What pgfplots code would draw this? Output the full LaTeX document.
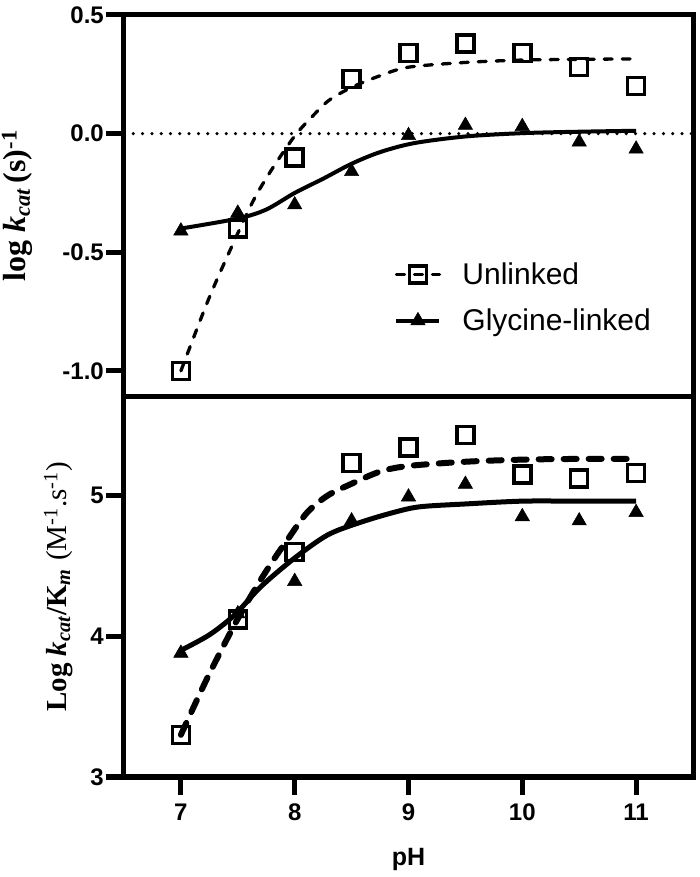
\documentclass[border=0pt]{standalone}
\usepackage{pgfplots}
\pgfplotsset{compat=1.18}
\usepackage{fontspec}
\setmainfont{Liberation Sans}
\newfontfamily\timesfont{Liberation Serif}

\pgfplotsset{
  panel/.style={
    scale only axis, width=569pt, xmin=6.5, xmax=11.5,
    axis line style={line width=5pt},
    tick align=outside, major tick length=18pt,
    tick style={line width=5pt, black},
    xtick pos=bottom, ytick pos=left,
    tick label style={font=\bfseries\fontsize{24}{24}\selectfont},
    /pgf/number format/assume math mode=true,
    yticklabel style={inner sep=2pt},
    xticklabel style={inner sep=0pt, yshift=-9pt},
  },
  unl1/.style={line width=3.3pt, line cap=round, dash pattern=on 8pt off 10pt},
  gly1/.style={line width=4pt},
  unl2/.style={line width=6pt, line cap=round, dash pattern=on 13pt off 12pt},
  gly2/.style={line width=5pt},
  sqm/.style={only marks, mark=square, mark size=8.5pt, mark options={solid, line width=3.5pt}},
  trm/.style={only marks, mark=triangle*, mark size=8.3pt, mark options={solid, line width=0.5pt}},
}

\begin{document}
\begin{tikzpicture}
\useasboundingbox (-124pt,-100pt) rectangle (576pt,777pt);

% ---------------- top panel ----------------
\begin{axis}[panel, at={(0pt,380pt)}, anchor=south west, height=382pt,
  ymin=-1.11, ymax=0.5, ytick={-1,-0.5,0,0.5}, xtick=\empty,
  yticklabel style={/pgf/number format/fixed, /pgf/number format/fixed zerofill, /pgf/number format/precision=1},
  ylabel={\timesfont\bfseries log \textit{k}\textsubscript{\textit{cat}}\,(s)\textsuperscript{-1}},
  ylabel style={at={(axis description cs:0,0.5)}, anchor=south, yshift=91pt, inner sep=0pt, font=\fontsize{32}{38}\selectfont},
  legend style={at={(0.475,0.2605)}, anchor=west, draw=none, fill=none,
    font=\fontsize{30}{36}\selectfont, row sep=23pt, inner sep=0pt,
    nodes={inner sep=0pt},
    /tikz/every odd column/.append style={column sep=21pt}},
  legend cell align=left,
  legend image code/.code={\draw[mark repeat=2,mark phase=2,#1] plot coordinates {(0pt,0pt) (21.5pt,0pt) (43pt,0pt)};},
]
\addlegendimage{unl1, mark=square, mark size=8.5pt, mark options={solid, line width=3.5pt}}
\addlegendentry{Unlinked}
\addlegendimage{gly1, mark=triangle*, mark size=8.3pt, mark options={solid, line width=0.5pt}}
\addlegendentry{Glycine-linked}

\addplot[forget plot, line width=3.5pt, line cap=round, dash pattern=on 0pt off 9.3pt] coordinates {(6.5,0) (11.5,0)};

% fitted curves
\addplot[forget plot, unl1, smooth] coordinates {
(7.0,-1.00) (7.25,-0.69) (7.5,-0.42) (7.65,-0.27) (7.8,-0.15) (8.0,-0.01) (8.15,0.07)
(8.3,0.14) (8.5,0.195) (8.75,0.244) (9.0,0.28) (9.5,0.30) (10.0,0.31) (10.5,0.313) (11.0,0.315)};
\addplot[forget plot, gly1, smooth] coordinates {
(7.0,-0.40) (7.5,-0.358) (7.75,-0.32) (8.0,-0.25) (8.25,-0.19) (8.5,-0.127) (8.75,-0.078)
(9.05,-0.04) (9.5,-0.012) (10.0,0.002) (10.5,0.008) (11.0,0.012)};

% data
\addplot[forget plot, sqm] coordinates {
(7,-1.00) (7.5,-0.40) (8,-0.10) (8.5,0.23) (9,0.34) (9.5,0.38) (10,0.34) (10.5,0.28) (11,0.20)};
\addplot[forget plot, trm] coordinates {
(7,-0.41) (7.5,-0.335) (8,-0.30) (8.5,-0.16) (9,-0.008) (9.5,0.035) (10,0.03) (10.5,-0.035) (11,-0.065)};
\end{axis}

% ---------------- bottom panel ----------------
\begin{axis}[panel, at={(0pt,0pt)}, anchor=south west, height=380pt,
  ymin=3, ymax=5.7, ytick={3,4,5}, xtick={7,8,9,10,11},
  xlabel={pH},
  xlabel style={at={(axis description cs:0.5,0)}, anchor=north, yshift=-71pt, inner sep=0pt, font=\bfseries\fontsize{25}{30}\selectfont},
  ylabel={{\timesfont\bfseries Log \textit{k}\textsubscript{\textit{cat}}/K\textsubscript{\textit{m}}} {\timesfont(M\textsuperscript{-1}.s\textsuperscript{-1})}},
  ylabel style={at={(axis description cs:0,0.5)}, anchor=south, yshift=51pt, inner sep=0pt, font=\fontsize{29}{34}\selectfont},
]
\addplot[unl2, smooth] coordinates {
(7.0,3.30) (7.23,3.70) (7.47,4.08) (7.67,4.36) (7.82,4.55) (7.94,4.69) (8.11,4.88) (8.29,5.00)
(8.49,5.08) (8.75,5.17) (9.0,5.21) (9.5,5.24) (10.0,5.255) (10.5,5.26) (11.0,5.26)};
\addplot[gly2, smooth] coordinates {
(7.0,3.90) (7.25,4.01) (7.47,4.15) (7.70,4.35) (7.99,4.55) (8.29,4.72) (8.58,4.81) (8.87,4.88)
(9.1,4.92) (9.5,4.94) (10.0,4.96) (10.5,4.96) (11.0,4.96)};

\addplot[sqm] coordinates {
(7,3.30) (7.5,4.12) (8,4.60) (8.5,5.23) (9,5.34) (9.5,5.43) (10,5.15) (10.5,5.12) (11,5.16)};
\addplot[trm] coordinates {
(7,3.88) (7.5,4.16) (8,4.39) (8.5,4.82) (9,4.99) (9.5,5.08) (10,4.85) (10.5,4.82) (11,4.88)};
\end{axis}
\end{tikzpicture}
\end{document}
